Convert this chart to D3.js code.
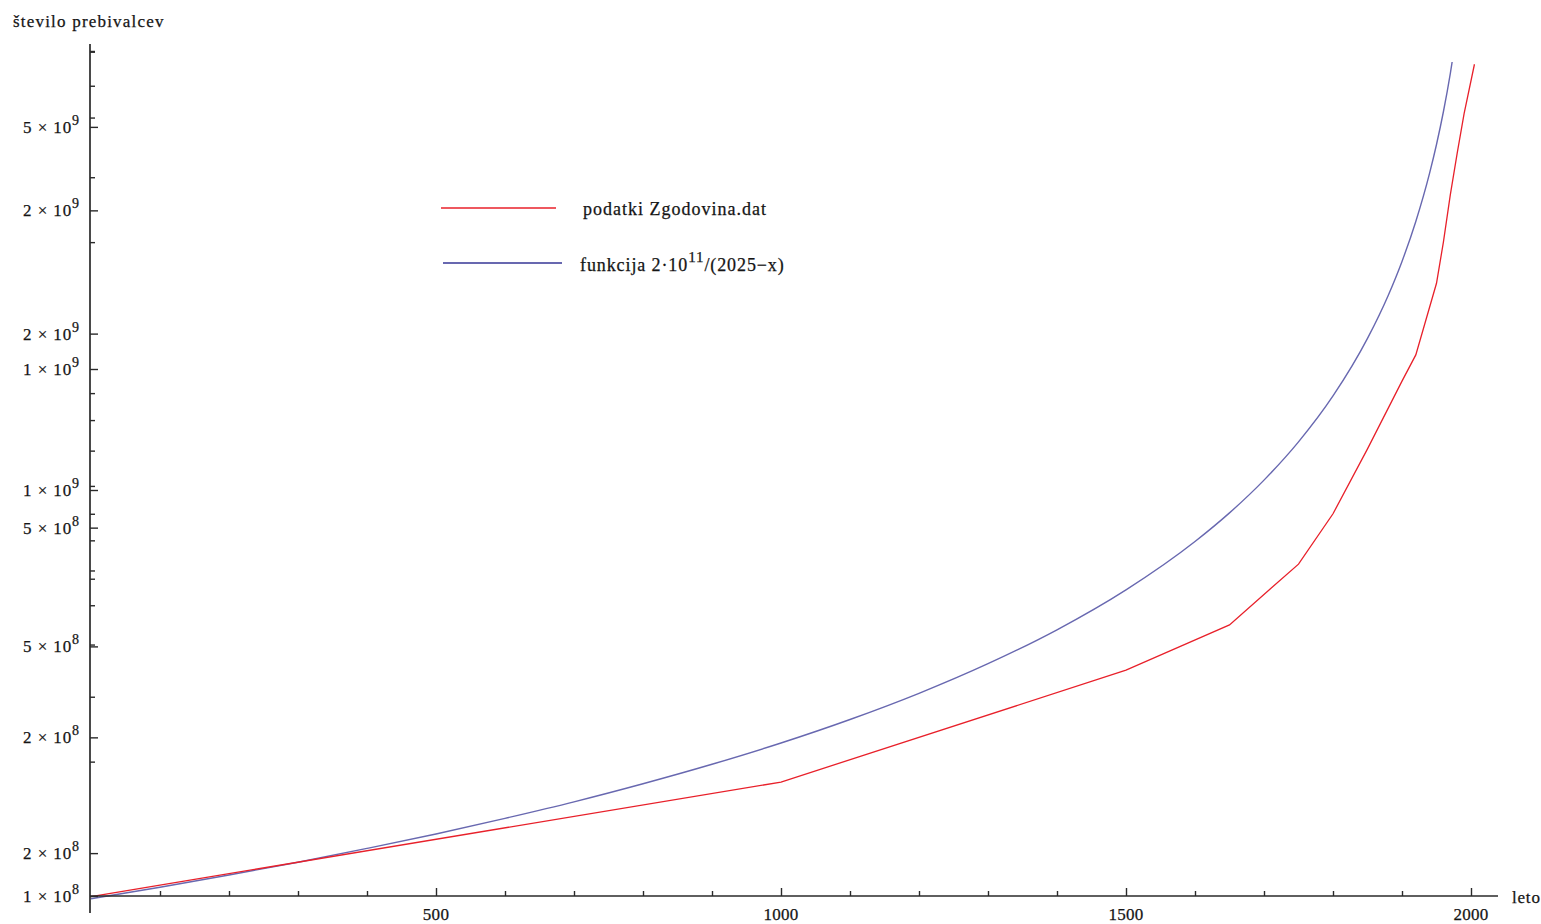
<!DOCTYPE html>
<html><head><meta charset="utf-8">
<script src="https://cdn.jsdelivr.net/npm/d3@7"></script>
<style>
body{margin:0;background:#fff}
svg{display:block}
text{font-family:"Liberation Serif","DejaVu Serif",serif;fill:#151515;stroke:#151515;stroke-width:0.25px}
</style>
</head><body>
<svg id="chart" width="1541" height="924"></svg>
<script>
// ---- data ----
const dataYears  = [0, 1000, 1500, 1650, 1750, 1800, 1850, 1900, 1920, 1950, 1960, 1970, 1980, 1990, 2005];
const dataValues = [1.65e8, 2.74e8, 4.5e8, 5.5e8, 7.2e8, 9.0e8, 1.2e9, 1.62e9, 1.82e9, 2.5e9, 3.0e9, 3.7e9, 4.45e9, 5.3e9, 6.6e9];

const fnYears  = [0, 100, 200, 300, 400, 500, 600, 700, 800, 900, 1000, 1100, 1200, 1300, 1400, 1500, 1600, 1650, 1700, 1750, 1800, 1850, 1880, 1900, 1920, 1940, 1950, 1960, 1970, 1975];
const fnValues = [0.988e8, 1.039e8, 1.096e8, 1.159e8, 1.231e8, 1.311e8, 1.404e8, 1.509e8, 1.633e8, 1.778e8, 1.951e8, 2.162e8, 2.424e8, 2.759e8, 3.2e8, 3.81e8, 4.706e8, 5.333e8, 6.154e8, 7.273e8, 8.889e8, 1.143e9, 1.379e9, 1.6e9, 1.905e9, 2.353e9, 2.667e9, 3.077e9, 3.636e9, 4.0e9];

const xTickValues  = [500, 1000, 1500, 2000];
const xTickLabels  = ["500", "1000", "1500", "2000"];
const xMinorTicks  = [100, 200, 300, 400, 600, 700, 800, 900, 1100, 1200, 1300, 1400, 1600, 1700, 1800, 1900];

const fnTickValues   = [1e8, 2e8, 5e8, 1e9, 2e9];
const fnTickMant     = ["1", "2", "5", "1", "2"];
const fnTickExp      = ["8", "8", "8", "9", "9"];
const fnMinorTicks   = [3e8, 4e8, 6e8, 7e8, 8e8, 9e8, 3e9, 4e9];

const dataTickValues = [2e8, 5e8, 1e9, 2e9, 5e9];
const dataTickMant   = ["2", "5", "1", "2", "5"];
const dataTickExp    = ["8", "8", "9", "9", "9"];
const dataMinorTicks = [3e8, 4e8, 6e8, 7e8, 8e8, 9e8, 3e9, 4e9, 6e9, 7e9];

const yTitle = "število prebivalcev";
const xTitle = "leto";
const legendData = "podatki Zgodovina.dat";

// ---- layout ----
const RED = "#e8202a", BLUE = "#6868b0", AXIS = "#2a2a2a";
const svg = d3.select("#chart");
svg.append("rect").attr("width", 1541).attr("height", 924).attr("fill", "#fff");

const x = d3.scaleLinear().domain([0, 2000]).range([91, 1471]);
const yFn = d3.scaleLog().domain([1e8, 1e9]).range([896, 369]);
const yData = d3.scaleLog().domain([1e9, 1e10]).range([490, -29.5]);

const axisLeftX = 90, axisY = yFn(1e8);

svg.append("defs").append("clipPath").attr("id", "clip")
  .append("rect").attr("x", 88).attr("y", 62).attr("width", 1420).attr("height", 860);

// curves
const g = svg.append("g").attr("clip-path", "url(#clip)");
const fnPts = fnYears.map((yr, i) => [yr, fnValues[i]]);
const dataPts = dataYears.map((yr, i) => [yr, dataValues[i]]);

g.append("path").datum(fnPts)
  .attr("fill", "none").attr("stroke", BLUE).attr("stroke-width", 1.4)
  .attr("d", d3.line().x(d => x(d[0])).y(d => yFn(d[1])).curve(d3.curveMonotoneX));

g.append("path").datum(dataPts)
  .attr("fill", "none").attr("stroke", RED).attr("stroke-width", 1.3)
  .attr("d", d3.line().x(d => x(d[0])).y(d => yData(d[1])));

// axes lines
svg.append("line").attr("x1", axisLeftX).attr("x2", axisLeftX).attr("y1", 44).attr("y2", 913)
  .attr("stroke", AXIS).attr("stroke-width", 1.7);
svg.append("line").attr("x1", axisLeftX).attr("x2", 1498).attr("y1", axisY).attr("y2", axisY)
  .attr("stroke", AXIS).attr("stroke-width", 1.7);

function ticksRight(scale, vals, len) {
  const a = d3.axisRight(scale).tickValues(vals).tickSize(len).tickFormat("");
  const gg = svg.append("g").attr("transform", `translate(${axisLeftX},0)`).call(a);
  gg.select(".domain").remove();
  gg.selectAll("line").attr("stroke", AXIS).attr("stroke-width", 1.4);
}
ticksRight(yFn, fnTickValues, 8);
ticksRight(yFn, fnMinorTicks, 5);
ticksRight(yData, dataTickValues, 8);
ticksRight(yData, dataMinorTicks, 5);

function ticksTop(vals, len) {
  const a = d3.axisTop(x).tickValues(vals).tickSize(len).tickFormat("");
  const gg = svg.append("g").attr("transform", `translate(0,${axisY})`).call(a);
  gg.select(".domain").remove();
  gg.selectAll("line").attr("stroke", AXIS).attr("stroke-width", 1.4);
}
ticksTop(xTickValues, 8);
ticksTop(xMinorTicks, 5);

// y labels
function yLabels(scale, vals, mant, exps) {
  vals.forEach((v, i) => {
    const t = svg.append("text").attr("x", 80).attr("y", scale(v) + 6)
      .attr("text-anchor", "end").attr("font-size", 17).attr("letter-spacing", 0.9);
    t.append("tspan").text(mant[i] + " \u00d7 10");
    t.append("tspan").attr("dy", -8).attr("font-size", 14).text(exps[i]);
  });
}
yLabels(yFn, fnTickValues, fnTickMant, fnTickExp);
yLabels(yData, dataTickValues, dataTickMant, dataTickExp);

// x labels
xTickValues.forEach((v, i) => {
  svg.append("text").attr("x", x(v)).attr("y", 920).attr("text-anchor", "middle")
    .attr("font-size", 17).attr("letter-spacing", 0.3).text(xTickLabels[i]);
});

// titles
svg.append("text").attr("x", 13).attr("y", 27).attr("font-size", 17).attr("letter-spacing", 1.2).text(yTitle);
svg.append("text").attr("x", 1512).attr("y", 903).attr("font-size", 17).attr("letter-spacing", 0.8).text(xTitle);

// legend
svg.append("line").attr("x1", 441).attr("x2", 556).attr("y1", 208).attr("y2", 208)
  .attr("stroke", RED).attr("stroke-width", 1.5);
svg.append("text").attr("x", 583).attr("y", 215).attr("font-size", 18).attr("letter-spacing", 1).text(legendData);

svg.append("line").attr("x1", 443).attr("x2", 562).attr("y1", 263).attr("y2", 263)
  .attr("stroke", BLUE).attr("stroke-width", 1.8);
const lt = svg.append("text").attr("x", 580).attr("y", 271).attr("font-size", 18).attr("letter-spacing", 0.9);
lt.append("tspan").text("funkcija 2\u00b710");
lt.append("tspan").attr("dy", -9).attr("font-size", 15).text("11");
lt.append("tspan").attr("dy", 9).text("/(2025\u2212x)");
</script>
</body></html>
